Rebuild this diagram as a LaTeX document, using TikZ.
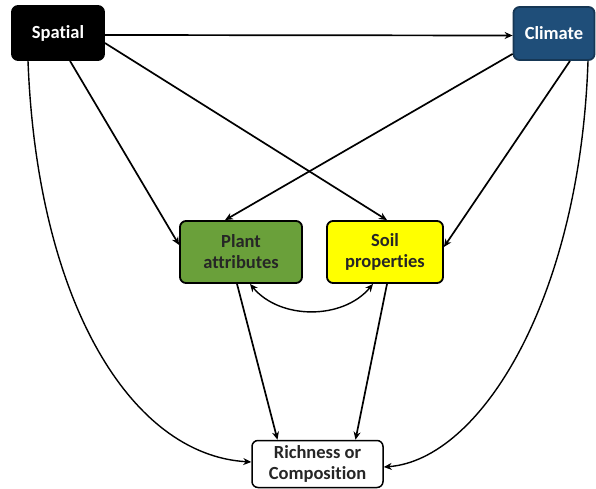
\documentclass[tikz,border=0pt]{standalone}
\usepackage{fontspec}
\setmainfont[Ligatures=NoCommon]{Carlito}
\usetikzlibrary{arrows.meta}
\definecolor{climblue}{RGB}{31,78,121}
\definecolor{plantgreen}{RGB}{106,160,58}
\definecolor{soilyellow}{RGB}{255,255,0}
\tikzset{
  box/.style={draw=black, line width=1.8pt, rounded corners=6pt, align=center, inner sep=0pt, font=\bfseries\fontsize{18.5}{21}\selectfont},
  conn/.style={line width=1.7pt, -{Stealth[length=8pt,width=7pt]}},
  curv/.style={line width=1.4pt, -{Stealth[length=8pt,width=7pt]}},
}
\begin{document}
\begin{tikzpicture}[x=1pt,y=-1pt]
\useasboundingbox (0,0) rectangle (596,489);
\node[box, fill=black, text=white, minimum width=92pt, minimum height=54pt] (sp) at (58,33) {Spatial};
\node[box, fill=climblue, draw=climblue!70!black, text=white, minimum width=81pt, minimum height=53pt] (cl) at (554,33.5) {Climate};
\node[box, fill=plantgreen, text=black!85, minimum width=122pt, minimum height=62pt] (pl) at (241,252) {Plant\\attributes};
\node[box, fill=soilyellow, text=black!85, minimum width=116pt, minimum height=62pt] (so) at (385,252) {Soil\\properties};
\node[box, fill=white, text=black!85, minimum width=131pt, minimum height=47pt, line width=1.5pt] (ri) at (317.5,464) {Richness or\\Composition};

\draw[conn] ([yshift=-2pt]sp.east) -- ([yshift=-2pt]cl.west);
\draw[conn] ([xshift=12pt]sp.south) -- ([yshift=7pt]pl.west);
\draw[conn] ([yshift=-10pt]sp.east) -- ([xshift=2pt]so.north);
\draw[conn] ([yshift=7pt]cl.south west) -- ([xshift=-16pt]pl.north);
\draw[conn] ([xshift=16pt]cl.south) -- ([yshift=5pt]so.east);
\draw[curv] ([xshift=-30pt]sp.south) .. controls (37,300) and (130,455) .. ([yshift=2pt]ri.west);
\draw[curv] ([xshift=34pt]cl.south) .. controls (580,300) and (480,460) .. ([yshift=-3pt]ri.east);
\draw[conn] ([xshift=-4pt]pl.south) -- ([xshift=-40pt]ri.north);
\draw[conn] ([xshift=2pt]so.south) -- ([xshift=38pt]ri.north);
\draw[curv, {Stealth[length=8pt,width=7pt]}-{Stealth[length=8pt,width=7pt]}] ([xshift=9pt]pl.south) .. controls (280,320) and (343,320) .. ([xshift=-12pt]so.south);
\end{tikzpicture}
\end{document}
